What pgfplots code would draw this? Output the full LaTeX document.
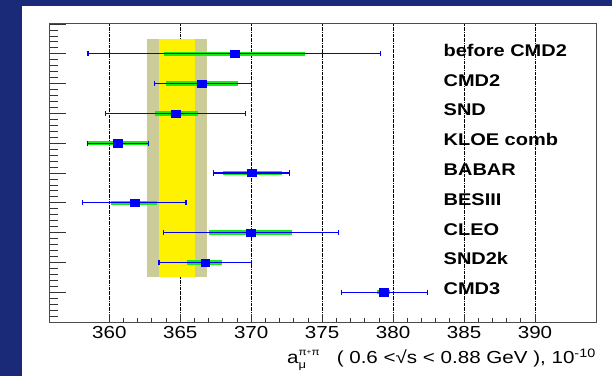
\documentclass[border=0pt]{standalone}
\usepackage{pgfplots}
\pgfplotsset{compat=1.18}
\usepackage{fontspec}
\setmainfont{Liberation Sans}[FakeStretch=1.18]
\definecolor{bgblue}{RGB}{27,42,120}
\definecolor{bandolive}{RGB}{204,204,153}
\definecolor{bargreen}{RGB}{20,235,20}
\definecolor{ptblue}{RGB}{0,0,250}

\begin{document}
\begin{tikzpicture}
\fill[bgblue] (-49bp,-54bp) rectangle (563bp,322bp);
\fill[white] (-27bp,-54bp) rectangle (563bp,316bp);
\begin{axis}[
  scale only axis, width=547bp, height=298bp,
  xmin=355.75, xmax=394.3, ymin=0, ymax=10,
  xtick={360,365,...,390}, minor x tick num=4,
  ytick={0,1,...,10}, minor y tick num=4, yticklabels={},
  xtick pos=bottom, ytick pos=left, tick align=inside,
  major tick length=17bp, minor tick length=9bp,
  xtick style={/pgfplots/major tick length=8bp, /pgfplots/minor tick length=4bp},
  xmajorgrids,
  major x grid style={black, densely dashdotted, line width=0.6bp},
  axis line style={black!70, line width=1bp},
  tick style={black!80, line width=0.8bp},
  unbounded coords=jump,
  /pgf/number format/assume math mode=true,
  xticklabel style={font=\fontsize{17.5}{17.5}\selectfont, anchor=north, inner sep=0pt, yshift=-4.3bp},
  xlabel={a\rlap{\raisebox{-0.5ex}{\fontsize{11}{11}\selectfont μ}}\raisebox{0.85ex}{\fontsize{10}{10}\selectfont π\raisebox{0.3ex}{\fontsize{7}{7}\selectfont +}π}\ \ \ ( 0.6 <√s < 0.88 GeV ), 10\textsuperscript{-10}},
  x label style={at={(axis description cs:1,0)}, anchor=base east, yshift=-41.5bp, inner sep=0pt, font=\fontsize{17.5}{17.5}\selectfont},
]
% combined-average bands
\addplot[draw=none, fill=bandolive] coordinates {(362.63,1.5) (366.87,1.5) (366.87,9.5) (362.63,9.5)} -- cycle;
\addplot[draw=none, fill=yellow] coordinates {(363.5,1.5) (366.03,1.5) (366.03,9.5) (363.5,9.5)} -- cycle;
% statistical (green) errors
\addplot[draw=bargreen, line width=4.3bp, mark=none] coordinates {
 (363.85,9) (373.80,9) (nan,nan)
 (364.00,8) (369.10,8) (nan,nan)
 (363.20,7) (366.25,7) (nan,nan)
 (358.45,6) (362.75,6) (nan,nan)
 (368.00,5) (372.20,5) (nan,nan)
 (360.15,4) (363.35,4) (nan,nan)
 (367.00,3) (372.90,3) (nan,nan)
 (365.50,2) (367.95,2) (nan,nan)
 (378.90,1) (379.80,1)
};
% total (blue) errors
\addplot[draw=ptblue, line width=1.2bp, mark=none] coordinates {
 (358.50,9) (379.10,9) (nan,nan)
 (363.20,8) (370.00,8) (nan,nan)
 (359.75,7) (369.60,7) (nan,nan)
 (358.45,6) (362.75,6) (nan,nan)
 (367.35,5) (372.70,5) (nan,nan)
 (358.10,4) (365.40,4) (nan,nan)
 (363.80,3) (376.15,3) (nan,nan)
 (363.50,2) (370.00,2) (nan,nan)
 (376.35,1) (382.40,1)
};
\addplot[only marks, mark=|, mark size=2.6bp, color=ptblue, mark options={line width=1.2bp, draw=ptblue}] coordinates {
 (358.50,9) (379.10,9) (363.20,8) (370.00,8) (359.75,7) (369.60,7)
 (358.45,6) (362.75,6) (367.35,5) (372.70,5) (358.10,4) (365.40,4)
 (363.80,3) (376.15,3) (363.50,2) (370.00,2) (376.35,1) (382.40,1)
};
% central values
\addplot[only marks, mark=square*, mark size=3.6bp, color=ptblue, mark options={xscale=1.2, fill=ptblue, draw=ptblue}] coordinates {
 (368.85,9) (366.50,8) (364.70,7) (360.60,6) (370.05,5)
 (361.80,4) (369.95,3) (366.75,2) (379.35,1)
};
\foreach \lab/\yy in {before CMD2/9, CMD2/8, SND/7, KLOE comb/6, BABAR/5, BESIII/4, CLEO/3, SND2k/2, CMD3/1}{
  \edef\tmp{\noexpand\node[anchor=base west, inner sep=0pt, font=\noexpand\bfseries\noexpand\fontsize{17}{17}\noexpand\selectfont] at (axis cs:383.55,\yy-0.085) {\lab};}
  \tmp
}
\end{axis}
\pgfresetboundingbox
\useasboundingbox (-49bp,-54bp) rectangle (563bp,322bp);
\end{tikzpicture}
\end{document}
